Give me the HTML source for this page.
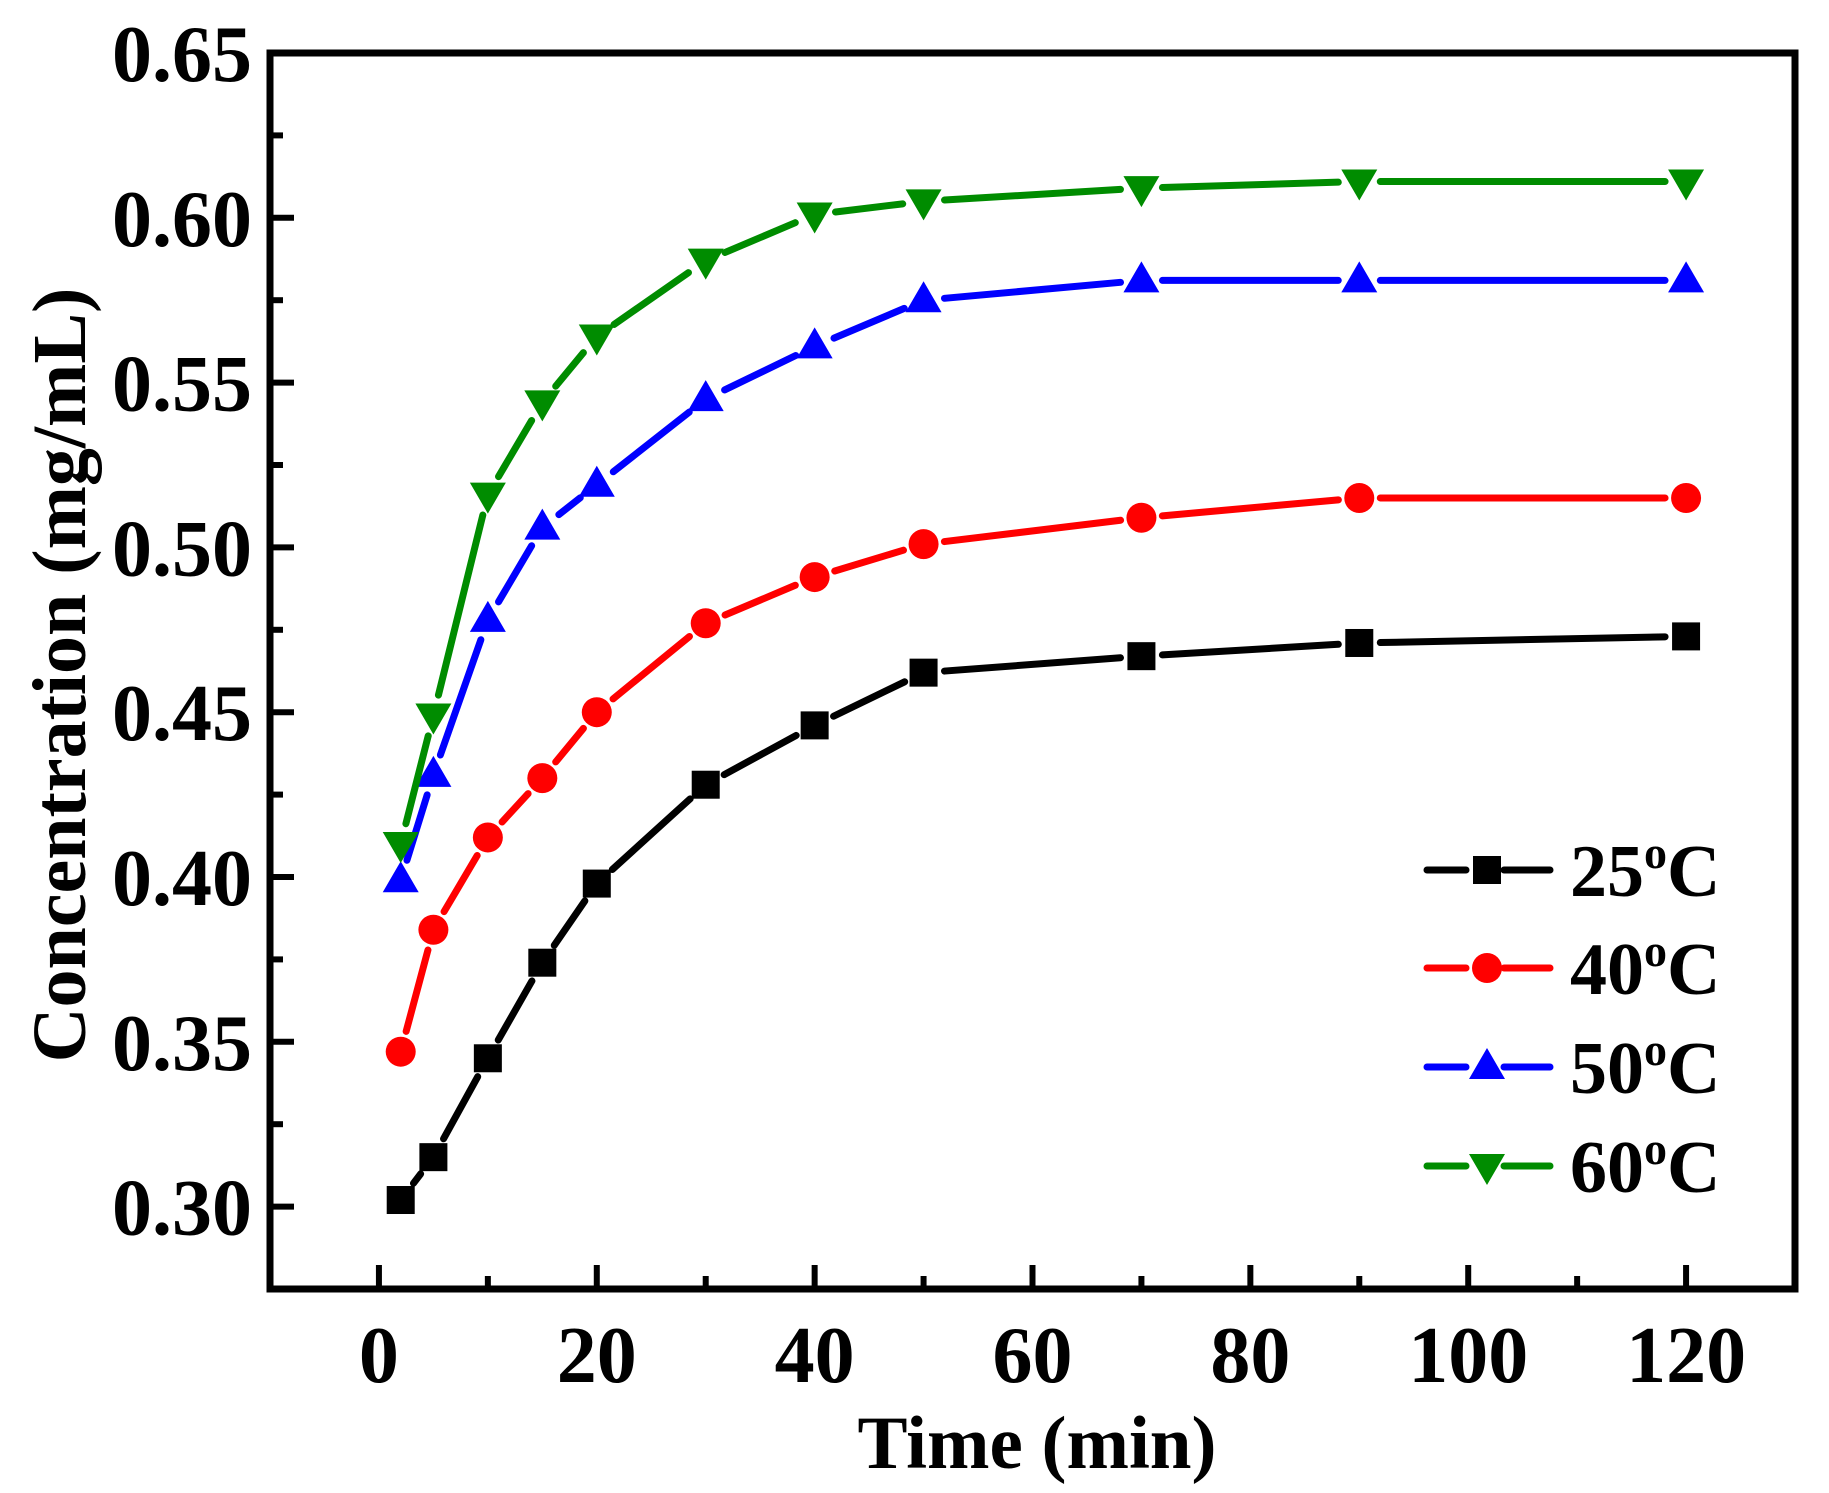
<!DOCTYPE html>
<html><head><meta charset="utf-8"><style>
html,body{margin:0;padding:0;background:#fff}
svg{display:block}
text{font-family:"Liberation Serif",serif;font-weight:bold;fill:#000}
</style></head><body>
<svg id="chart" width="1829" height="1493" viewBox="0 0 1829 1493">
<g id="plot"></g>
</svg>
<script>
const times=[2,5,10,15,20,30,40,50,70,90,120];
const s25=[0.302,0.315,0.345,0.374,0.398,0.428,0.446,0.462,0.467,0.471,0.473];
const s40=[0.347,0.384,0.412,0.430,0.450,0.477,0.491,0.501,0.509,0.515,0.515];
const s50=[0.399,0.431,0.478,0.506,0.519,0.545,0.561,0.575,0.581,0.581,0.581];
const s60=[0.410,0.449,0.516,0.544,0.564,0.587,0.601,0.605,0.609,0.611,0.611];
const xTicks=[0,20,40,60,80,100,120];
const xMinor=[10,30,50,70,90,110];
const yTicks=[0.30,0.35,0.40,0.45,0.50,0.55,0.60,0.65];
const yMinor=[0.325,0.375,0.425,0.475,0.525,0.575,0.625];
const seriesNames=["25","40","50","60"];

const L=270,R=1795,T=53,B=1289;
const xmin=-10,xmax=130,ymin=0.275,ymax=0.65;
const xs=v=>L+(v-xmin)/(xmax-xmin)*(R-L);
const ys=v=>B-(v-ymin)/(ymax-ymin)*(B-T);
const NS="http://www.w3.org/2000/svg";
const g=document.getElementById('plot');
function mk(tag,attrs,parent){const e=document.createElementNS(NS,tag);for(const k in attrs)e.setAttribute(k,attrs[k]);(parent||g).appendChild(e);return e;}

const series=[{d:s25,c:"#000",m:"sq"},{d:s40,c:"#ff0000",m:"ci"},{d:s50,c:"#0000ff",m:"up"},{d:s60,c:"#008c00",m:"dn"}];
function marker(m,x,y,c,parent){
  let e;
  if(m==="sq")e=mk('rect',{x:x-14,y:y-14,width:28,height:28,fill:c},parent);
  else if(m==="ci")e=mk('circle',{cx:x,cy:y,r:15,fill:c},parent);
  else if(m==="up")e=mk('polygon',{points:`${x},${y-19} ${x+18},${y+12} ${x-18},${y+12}`,fill:c},parent);
  else e=mk('polygon',{points:`${x},${y+19} ${x+18},${y-12} ${x-18},${y-12}`,fill:c},parent);
  return e;
}
series.forEach((s,si)=>{
  const sg=mk('g',{});
  
  
  const gap=21;
  for(let i=0;i<times.length-1;i++){
    const x1=xs(times[i]),y1=ys(s.d[i]),x2=xs(times[i+1]),y2=ys(s.d[i+1]);
    const dx=x2-x1,dy=y2-y1,len=Math.hypot(dx,dy);
    if(len<=2*gap)continue;
    const ux=dx/len,uy=dy/len;
    const ln=mk('line',{x1:x1+ux*gap,y1:y1+uy*gap,x2:x2-ux*gap,y2:y2-uy*gap,stroke:s.c,'stroke-width':7,'stroke-linecap':'round'},sg);
    
    
  }
  times.forEach((t,i)=>{
    const e=marker(s.m,xs(t),ys(s.d[i]),s.c,sg);
    
    
  });
});

const fr=mk('rect',{x:L,y:T,width:R-L,height:B-T,fill:'none',stroke:'#000','stroke-width':7});



yTicks.forEach(v=>{
  const y=ys(v);
  const t=mk('line',{x1:L,x2:L+24,y1:y,y2:y,stroke:'#000','stroke-width':6});
  
  
  const tx=mk('text',{x:252,y:y+28,'text-anchor':'end','font-size':80});
  tx.textContent=v.toFixed(2);
  
  
});
yMinor.forEach(v=>{
  const y=ys(v);
  const t=mk('line',{x1:L,x2:L+13,y1:y,y2:y,stroke:'#000','stroke-width':6});
  
  
});
xTicks.forEach(v=>{
  const x=xs(v);
  const t=mk('line',{x1:x,x2:x,y1:B,y2:B-24,stroke:'#000','stroke-width':6});
  
  
  const tx=mk('text',{x:x,y:1382,'text-anchor':'middle','font-size':80});
  tx.textContent=String(v);
  
  
});
xMinor.forEach(v=>{
  const x=xs(v);
  const t=mk('line',{x1:x,x2:x,y1:B,y2:B-13,stroke:'#000','stroke-width':6});
  
  
});

const xt=mk('text',{x:1037,y:1468,'text-anchor':'middle','font-size':75});
xt.textContent='Time (min)';


const yt=mk('text',{x:0,y:0,'text-anchor':'middle','font-size':76,transform:'translate(85,675) rotate(-90)'});
yt.textContent='Concentration (mg/mL)';



const lg=mk('g',{});


const rows=[870,968,1067,1166];
series.forEach((s,i)=>{
  const y=rows[i];
  const eg=mk('g',{},lg);
  
  
  mk('line',{x1:1427,x2:1466,y1:y,y2:y,stroke:s.c,'stroke-width':7,'stroke-linecap':'round'},eg);
  mk('line',{x1:1504,x2:1550,y1:y,y2:y,stroke:s.c,'stroke-width':7,'stroke-linecap':'round'},eg);
  marker(s.m,1487,y,s.c,eg);
  const tx=mk('text',{x:1570,y:y+26,'font-size':74},eg);
  tx.innerHTML=seriesNames[i]+'<tspan dy="-28" font-size="46">o</tspan><tspan dy="28">C</tspan>';
});
</script>
</body></html>
